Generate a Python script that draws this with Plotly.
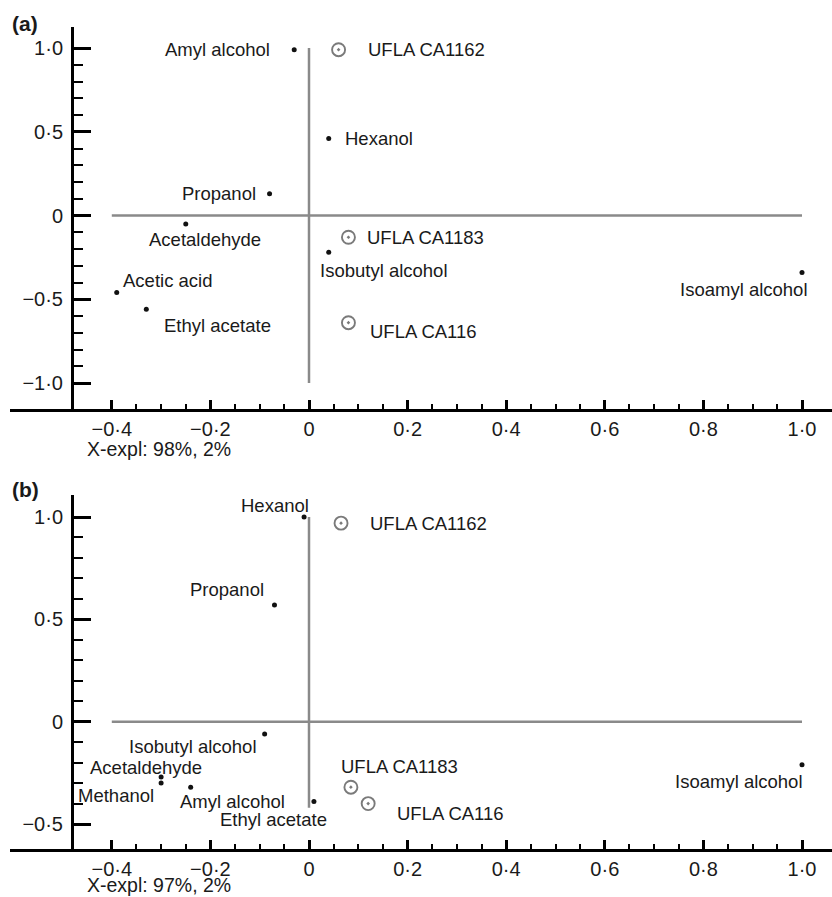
import plotly.graph_objects as go

# ---------------- data ----------------
# Panel (a)
a_comp_names = ["Amyl alcohol", "Hexanol", "Propanol", "Acetaldehyde", "Isobutyl alcohol",
                "Acetic acid", "Ethyl acetate", "Isoamyl alcohol"]
a_comp_x = [-0.03, 0.04, -0.08, -0.25, 0.04, -0.39, -0.33, 1.0]
a_comp_y = [0.99, 0.46, 0.13, -0.05, -0.22, -0.46, -0.56, -0.34]
a_strain_names = ["UFLA CA1162", "UFLA CA1183", "UFLA CA116"]
a_strain_x = [0.06, 0.08, 0.08]
a_strain_y = [0.99, -0.13, -0.64]

# Panel (b)
b_comp_names = ["Hexanol", "Propanol", "Isobutyl alcohol", "Acetaldehyde", "Methanol",
                "Amyl alcohol", "Ethyl acetate", "Isoamyl alcohol"]
b_comp_x = [-0.01, -0.07, -0.09, -0.30, -0.30, -0.24, 0.01, 1.0]
b_comp_y = [1.0, 0.57, -0.06, -0.27, -0.30, -0.32, -0.39, -0.21]
b_strain_names = ["UFLA CA1162", "UFLA CA1183", "UFLA CA116"]
b_strain_x = [0.065, 0.085, 0.12]
b_strain_y = [0.97, -0.32, -0.40]

# axis ticks
x_tickvals = [-0.4, -0.2, 0.0, 0.2, 0.4, 0.6, 0.8, 1.0]
x_ticktext = ["\u22120\u00b74", "\u22120\u00b72", "0", "0\u00b72", "0\u00b74", "0\u00b76", "0\u00b78", "1\u00b70"]
a_y_tickvals = [-1.0, -0.5, 0.0, 0.5, 1.0]
a_y_ticktext = ["\u22121\u00b70", "\u22120\u00b75", "0", "0\u00b75", "1\u00b70"]
b_y_tickvals = [-0.5, 0.0, 0.5, 1.0]
b_y_ticktext = ["\u22120\u00b75", "0", "0\u00b75", "1\u00b70"]
a_caption = "X-expl: 98%, 2%"
b_caption = "X-expl: 97%, 2%"

# reference-line extents
a_hline = [-0.4, 1.0]
a_vline = [1.0, -1.0]
b_hline = [-0.4, 1.0]
b_vline = [1.0, -0.42]

# ---------------- styles (label offsets, px) ----------------
a_comp_lab = [("right", -22, 0), ("left", 14, 0), ("right", -12, 0), ("center", 19, -16),
              ("left", -11, -18), ("left", 4, 12), ("left", 16, -16), ("right", 8, -17)]
a_strain_lab = [("left", 27, 0), ("left", 17, 0), ("left", 20, -9)]
b_comp_lab = [("right", 7, 12), ("right", -8, 16), ("right", -6, -13), ("left", -73, 9),
              ("right", -5, -12), ("left", -13, -14), ("right", 15, -18), ("right", 3, -17)]
b_strain_lab = [("left", 27, 0), ("left", -12, 21), ("left", 27, -10)]

W, H = 832, 897
FONT = "Liberation Sans, Arial, Helvetica, sans-serif"
TXT = "#1a1a1a"
GREY = "#8a8a8a"

x0px, xsc = 309.0, 493.0          # x = 0 pixel, px per unit
xl_px, xr_px = 10.0, 832.0
yaxis_px = 72.0

def xrange_():
    return [(xl_px - x0px) / xsc, (xr_px - x0px) / xsc]

def ydom(top_px, bot_px):
    return [(H - bot_px) / H, (H - top_px) / H]

def yrange(zero_px, sc, top_px, bot_px):
    return [(zero_px - bot_px) / sc, (zero_px - top_px) / sc]

def minors(lo, hi, step, majors):
    n = int(round((hi - lo) / step))
    vals = [round(lo + i * step, 4) for i in range(n + 1)]
    return [v for v in vals if all(abs(v - m) > 1e-6 for m in majors)]

fig = go.Figure()

annotations = []

def add_panel(xa, ya, cnames, cx, cy, snames, sx, sy, hline, vline, clab, slab):
    # reference lines
    fig.add_trace(go.Scatter(x=hline, y=[0, 0], mode="lines", xaxis=xa, yaxis=ya,
                             line=dict(color=GREY, width=2.5), hoverinfo="skip", showlegend=False))
    fig.add_trace(go.Scatter(x=[0, 0], y=vline, mode="lines", xaxis=xa, yaxis=ya,
                             line=dict(color=GREY, width=2.5), hoverinfo="skip", showlegend=False))
    # compounds
    fig.add_trace(go.Scatter(x=cx, y=cy, mode="markers", xaxis=xa, yaxis=ya,
                             marker=dict(symbol="circle", size=5, color="#111111"),
                             showlegend=False))
    # strains
    fig.add_trace(go.Scatter(x=sx, y=sy, mode="markers", xaxis=xa, yaxis=ya,
                             marker=dict(symbol="circle-open-dot", size=13, color="#7a7a7a",
                                         line=dict(width=1.9, color="#7a7a7a")),
                             showlegend=False))
    for names, xs, ys, lab in ((cnames, cx, cy, clab), (snames, sx, sy, slab)):
        for n, xv, yv, (anc, dx, dy) in zip(names, xs, ys, lab):
            annotations.append(dict(x=xv, y=yv, xref=xa, yref=ya, text=n, showarrow=False,
                                    xanchor=anc, yanchor="middle", xshift=dx, yshift=dy,
                                    font=dict(family=FONT, size=18.5, color=TXT)))

add_panel("x", "y", a_comp_names, a_comp_x, a_comp_y, a_strain_names, a_strain_x, a_strain_y,
          a_hline, a_vline, a_comp_lab, a_strain_lab)
add_panel("x2", "y2", b_comp_names, b_comp_x, b_comp_y, b_strain_names, b_strain_x, b_strain_y,
          b_hline, b_vline, b_comp_lab, b_strain_lab)

x_minor = minors(-0.4, 1.0, 0.05, x_tickvals)
a_y_minor = minors(-1.0, 1.0, 0.1, a_y_tickvals)
b_y_minor = minors(-0.5, 1.0, 0.1, b_y_tickvals)

tickfont = dict(family=FONT, size=20, color=TXT)

def xaxis_cfg(anchor):
    return dict(domain=[xl_px / W, 1.0], range=xrange_(), anchor=anchor,
                showline=True, linecolor="black", linewidth=3, mirror=False,
                showgrid=False, zeroline=False,
                tickmode="array", tickvals=x_tickvals, ticktext=x_ticktext,
                ticks="inside", ticklen=9, tickwidth=2.5, tickcolor="black",
                minor=dict(tickmode="array", tickvals=x_minor, ticks="inside", ticklen=5,
                           tickwidth=2, tickcolor="black", showgrid=False),
                tickfont=tickfont, ticklabelstandoff=0, fixedrange=True)

def yaxis_cfg(dom, rng, tv, tt, minor_vals):
    return dict(domain=dom, range=rng, anchor="free", position=yaxis_px / W,
                showline=True, linecolor="black", linewidth=3,
                showgrid=False, zeroline=False,
                tickmode="array", tickvals=tv, ticktext=tt,
                ticks="inside", ticklen=17, tickwidth=2.5, tickcolor="black",
                minor=dict(tickmode="array", tickvals=minor_vals, ticks="inside", ticklen=9,
                           tickwidth=2, tickcolor="black", showgrid=False),
                tickfont=tickfont, ticklabelstandoff=4, fixedrange=True)

# panel geometry (pixels)
a_top, a_bot, a_zero, a_sc = 27.0, 409.0, 215.5, 167.5
b_top, b_bot, b_zero, b_sc = 495.0, 849.0, 721.7, 204.7

# panel letters and captions
for letter, ypx in (("(a)", 24), ("(b)", 489)):
    annotations.append(dict(x=10 / W, y=(H - ypx) / H, xref="paper", yref="paper", text="<b>" + letter + "</b>",
                            showarrow=False, xanchor="left", yanchor="middle",
                            font=dict(family=FONT, size=21, color=TXT)))
for cap, ypx in ((a_caption, 449), (b_caption, 885)):
    annotations.append(dict(x=85 / W, y=(H - ypx) / H, xref="paper", yref="paper", text=cap,
                            showarrow=False, xanchor="left", yanchor="middle",
                            font=dict(family=FONT, size=19.5, color=TXT)))

fig.update_layout(
    width=W, height=H, autosize=False,
    margin=dict(l=0, r=0, t=0, b=0, pad=0),
    paper_bgcolor="white", plot_bgcolor="white",
    xaxis=xaxis_cfg("y"),
    yaxis=yaxis_cfg(ydom(a_top, a_bot), yrange(a_zero, a_sc, a_top, a_bot), a_y_tickvals, a_y_ticktext, a_y_minor),
    xaxis2=xaxis_cfg("y2"),
    yaxis2=yaxis_cfg(ydom(b_top, b_bot), yrange(b_zero, b_sc, b_top, b_bot), b_y_tickvals, b_y_ticktext, b_y_minor),
    annotations=annotations,
    showlegend=False,
)

fig.write_html("out.html", config={"displayModeBar": False},
               post_script="document.body.style.margin='0';document.body.style.overflow='hidden';")
